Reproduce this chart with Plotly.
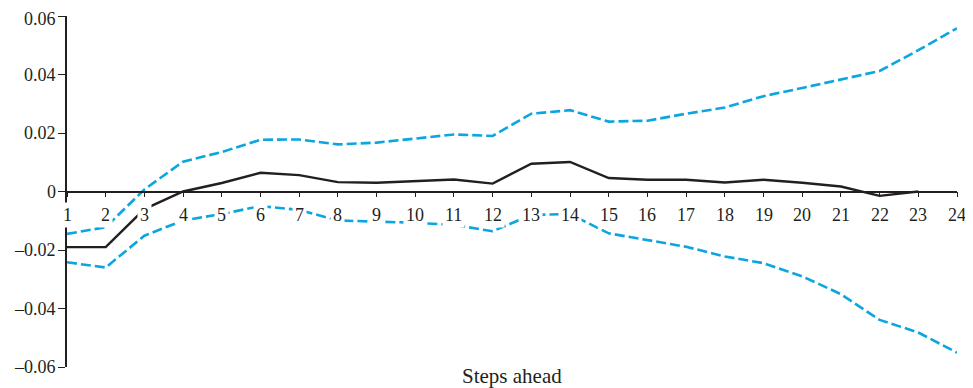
import plotly.graph_objects as go

steps = list(range(1, 25))
tick_labels = [str(s) for s in steps]

central = [-0.019, -0.019, -0.006, 0.0, 0.0029, 0.0064, 0.0056, 0.0032, 0.003, 0.0035,
           0.0041, 0.0027, 0.0095, 0.0101, 0.0046, 0.004, 0.004, 0.0031, 0.004, 0.003,
           0.0017, -0.0015, 0.0, None]
upper = [-0.0145, -0.0122, 0.0007, 0.0102, 0.0135, 0.0177, 0.0178, 0.0161, 0.0167, 0.018,
         0.0195, 0.019, 0.0266, 0.0278, 0.0239, 0.0242, 0.0266, 0.0287, 0.0326, 0.0354,
         0.0384, 0.0412, 0.0483, 0.0558]
lower = [-0.0242, -0.026, -0.0151, -0.0099, -0.0077, -0.005, -0.0063, -0.0099, -0.0103, -0.0107,
         -0.0114, -0.0136, -0.008, -0.0077, -0.0143, -0.0165, -0.0189, -0.0222, -0.0245, -0.029,
         -0.0351, -0.0439, -0.0482, -0.0551]

y_tickvals = [-0.06, -0.04, -0.02, 0, 0.02, 0.04, 0.06]
y_ticktext = ["\u20130.06", "\u20130.04", "\u20130.02", "0", "0.02", "0.04", "0.06"]

FONT = "Liberation Serif"
CYAN = "#0ba6e0"
DARK = "#231f20"

fig = go.Figure()
fig.add_trace(go.Scatter(x=steps, y=upper, mode="lines",
                         line=dict(color=CYAN, width=2.6, dash="10px,4px"), showlegend=False))
fig.add_trace(go.Scatter(x=steps, y=lower, mode="lines",
                         line=dict(color=CYAN, width=2.6, dash="10px,4px"), showlegend=False))
fig.add_trace(go.Scatter(x=steps, y=central, mode="lines",
                         line=dict(color=DARK, width=2.4), showlegend=False, connectgaps=False))

annotations = []
for s, lab in zip(steps, tick_labels):
    annotations.append(dict(x=s, y=0, xref="x", yref="y", text=lab, showarrow=False,
                            yshift=-23, bgcolor="white", borderpad=2,
                            font=dict(family=FONT, size=18, color=DARK)))
top_val = max(y_tickvals)
for v, lab in zip(y_tickvals, y_ticktext):
    is_top = v == top_val
    annotations.append(dict(x=0, y=v, xref="paper", yref="y", text=lab, showarrow=False,
                            xanchor="right", yanchor="top" if is_top else "middle",
                            yshift=8 if is_top else 0, xshift=-10, borderpad=0,
                            font=dict(family=FONT, size=18, color=DARK)))
annotations.append(dict(x=0.5, y=0, xref="paper", yref="paper", text="Steps ahead",
                        showarrow=False, yanchor="middle", yshift=-9,
                        font=dict(family=FONT, size=21, color=DARK)))

fig.update_layout(
    width=965, height=380,
    margin=dict(l=59, r=16, t=8, b=21, autoexpand=False),
    paper_bgcolor="white", plot_bgcolor="white",
    font=dict(family=FONT, size=18, color=DARK),
    annotations=annotations,
    xaxis=dict(range=[1, 24], tickvals=steps, showticklabels=False, automargin=False,
               anchor="free", position=0.5, showline=True, linecolor=DARK, linewidth=1.5,
               ticks="outside", ticklen=5, tickwidth=1.2, tickcolor=DARK,
               showgrid=False, zeroline=False),
    yaxis=dict(range=[-0.06, 0.06], tickvals=y_tickvals, showticklabels=False,
               automargin=False,
               showline=True, linecolor=DARK, linewidth=1.5,
               ticks="outside", ticklen=7, tickwidth=1.2, tickcolor=DARK,
               showgrid=False, zeroline=False),
)

fig.write_html("out.html")
